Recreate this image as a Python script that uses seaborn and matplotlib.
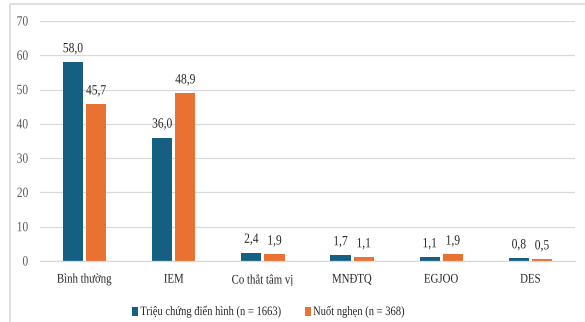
import matplotlib
matplotlib.use("Agg")
import matplotlib.pyplot as plt
import seaborn as sns
import pandas as pd
from matplotlib.patches import Rectangle
from matplotlib.patheffects import AbstractPathEffect
from matplotlib.transforms import Affine2D

categories = ["Bình thường", "IEM", "Co thắt tâm vị", "MNĐTQ", "EGJOO", "DES"]
typical = [58.0, 36.0, 2.4, 1.7, 1.1, 0.8]
dysphagia = [45.7, 48.9, 1.9, 1.1, 1.9, 0.5]
series_names = ["Triệu chứng điển hình (n = 1663)", "Nuốt nghẹn (n = 368)"]
yticks = [0, 10, 20, 30, 40, 50, 60, 70]

colors = ["#156082", "#E97132"]


class TallGlyphs(AbstractPathEffect):
    """Stretch glyphs vertically from their baseline."""

    def __init__(self, sy=1.2):
        super().__init__()
        self.sy = sy

    def draw_path(self, renderer, gc, tpath, affine, rgbFace=None):
        renderer.draw_path(gc, tpath, Affine2D().scale(1, self.sy) + affine, rgbFace)


df = pd.DataFrame({
    "cat": categories * 2,
    "val": typical + dysphagia,
    "series": [series_names[0]] * len(categories) + [series_names[1]] * len(categories),
})

sns.set_style("white")
plt.rcParams["font.family"] = ["Liberation Serif", "DejaVu Serif"]

fig = plt.figure(figsize=(5.85, 3.22), dpi=100)
ax = fig.add_axes([40 / 585, (322 - 261) / 322, 535 / 585, 240 / 322])

sns.barplot(data=df, x="cat", y="val", hue="series", palette=colors,
            width=0.52, gap=0.13, ax=ax, saturation=1, errorbar=None,
            edgecolor="none")

ax.set_ylim(0, 70)
ax.set_yticks(yticks)
ax.set_xlim(-0.5, len(categories) - 0.5)
ax.grid(axis="y", color="#D9D9D9", linewidth=0.9)
ax.set_axisbelow(True)
for s in ["top", "right", "left"]:
    ax.spines[s].set_visible(False)
ax.spines["bottom"].set_color("#D9D9D9")
ax.spines["bottom"].set_linewidth(0.9)
ax.set_xlabel("")
ax.set_ylabel("")
ax.tick_params(axis="y", length=0, labelsize=8.3, labelcolor="#595959", pad=8.5)
ax.tick_params(axis="x", length=0, labelsize=7.8, labelcolor="#262626", pad=10.5)

value_texts = []
for container in ax.containers:
    labels = [f"{v:.1f}".replace(".", ",") for v in container.datavalues]
    value_texts += ax.bar_label(container, labels=labels, padding=5,
                                fontsize=8.3, color="#262626")

handles, labs = ax.get_legend_handles_labels()
leg = fig.legend(handles, labs, loc="center", bbox_to_anchor=(268.5 / 585, 1 - 312 / 322),
                 ncol=2, frameon=False, fontsize=7.6,
                 handlelength=0.55, handleheight=1.0, handletextpad=0.2,
                 columnspacing=2.2, labelcolor="#262626")
ax.get_legend().remove()

tall = [TallGlyphs(1.22)]
for t in ax.get_xticklabels() + ax.get_yticklabels() + value_texts + leg.get_texts():
    t.set_path_effects(tall)
for lab in ax.get_yticklabels():
    lab.set_verticalalignment("center_baseline")

# outer chart frame
fig.patches.append(Rectangle((9.5 / 585, -0.1), 1.2, (322 - 3.5) / 322 + 0.1,
                             transform=fig.transFigure, fill=False,
                             edgecolor="#D9D9D9", linewidth=1.2))

fig.savefig("out.png", dpi=100, facecolor="white")
